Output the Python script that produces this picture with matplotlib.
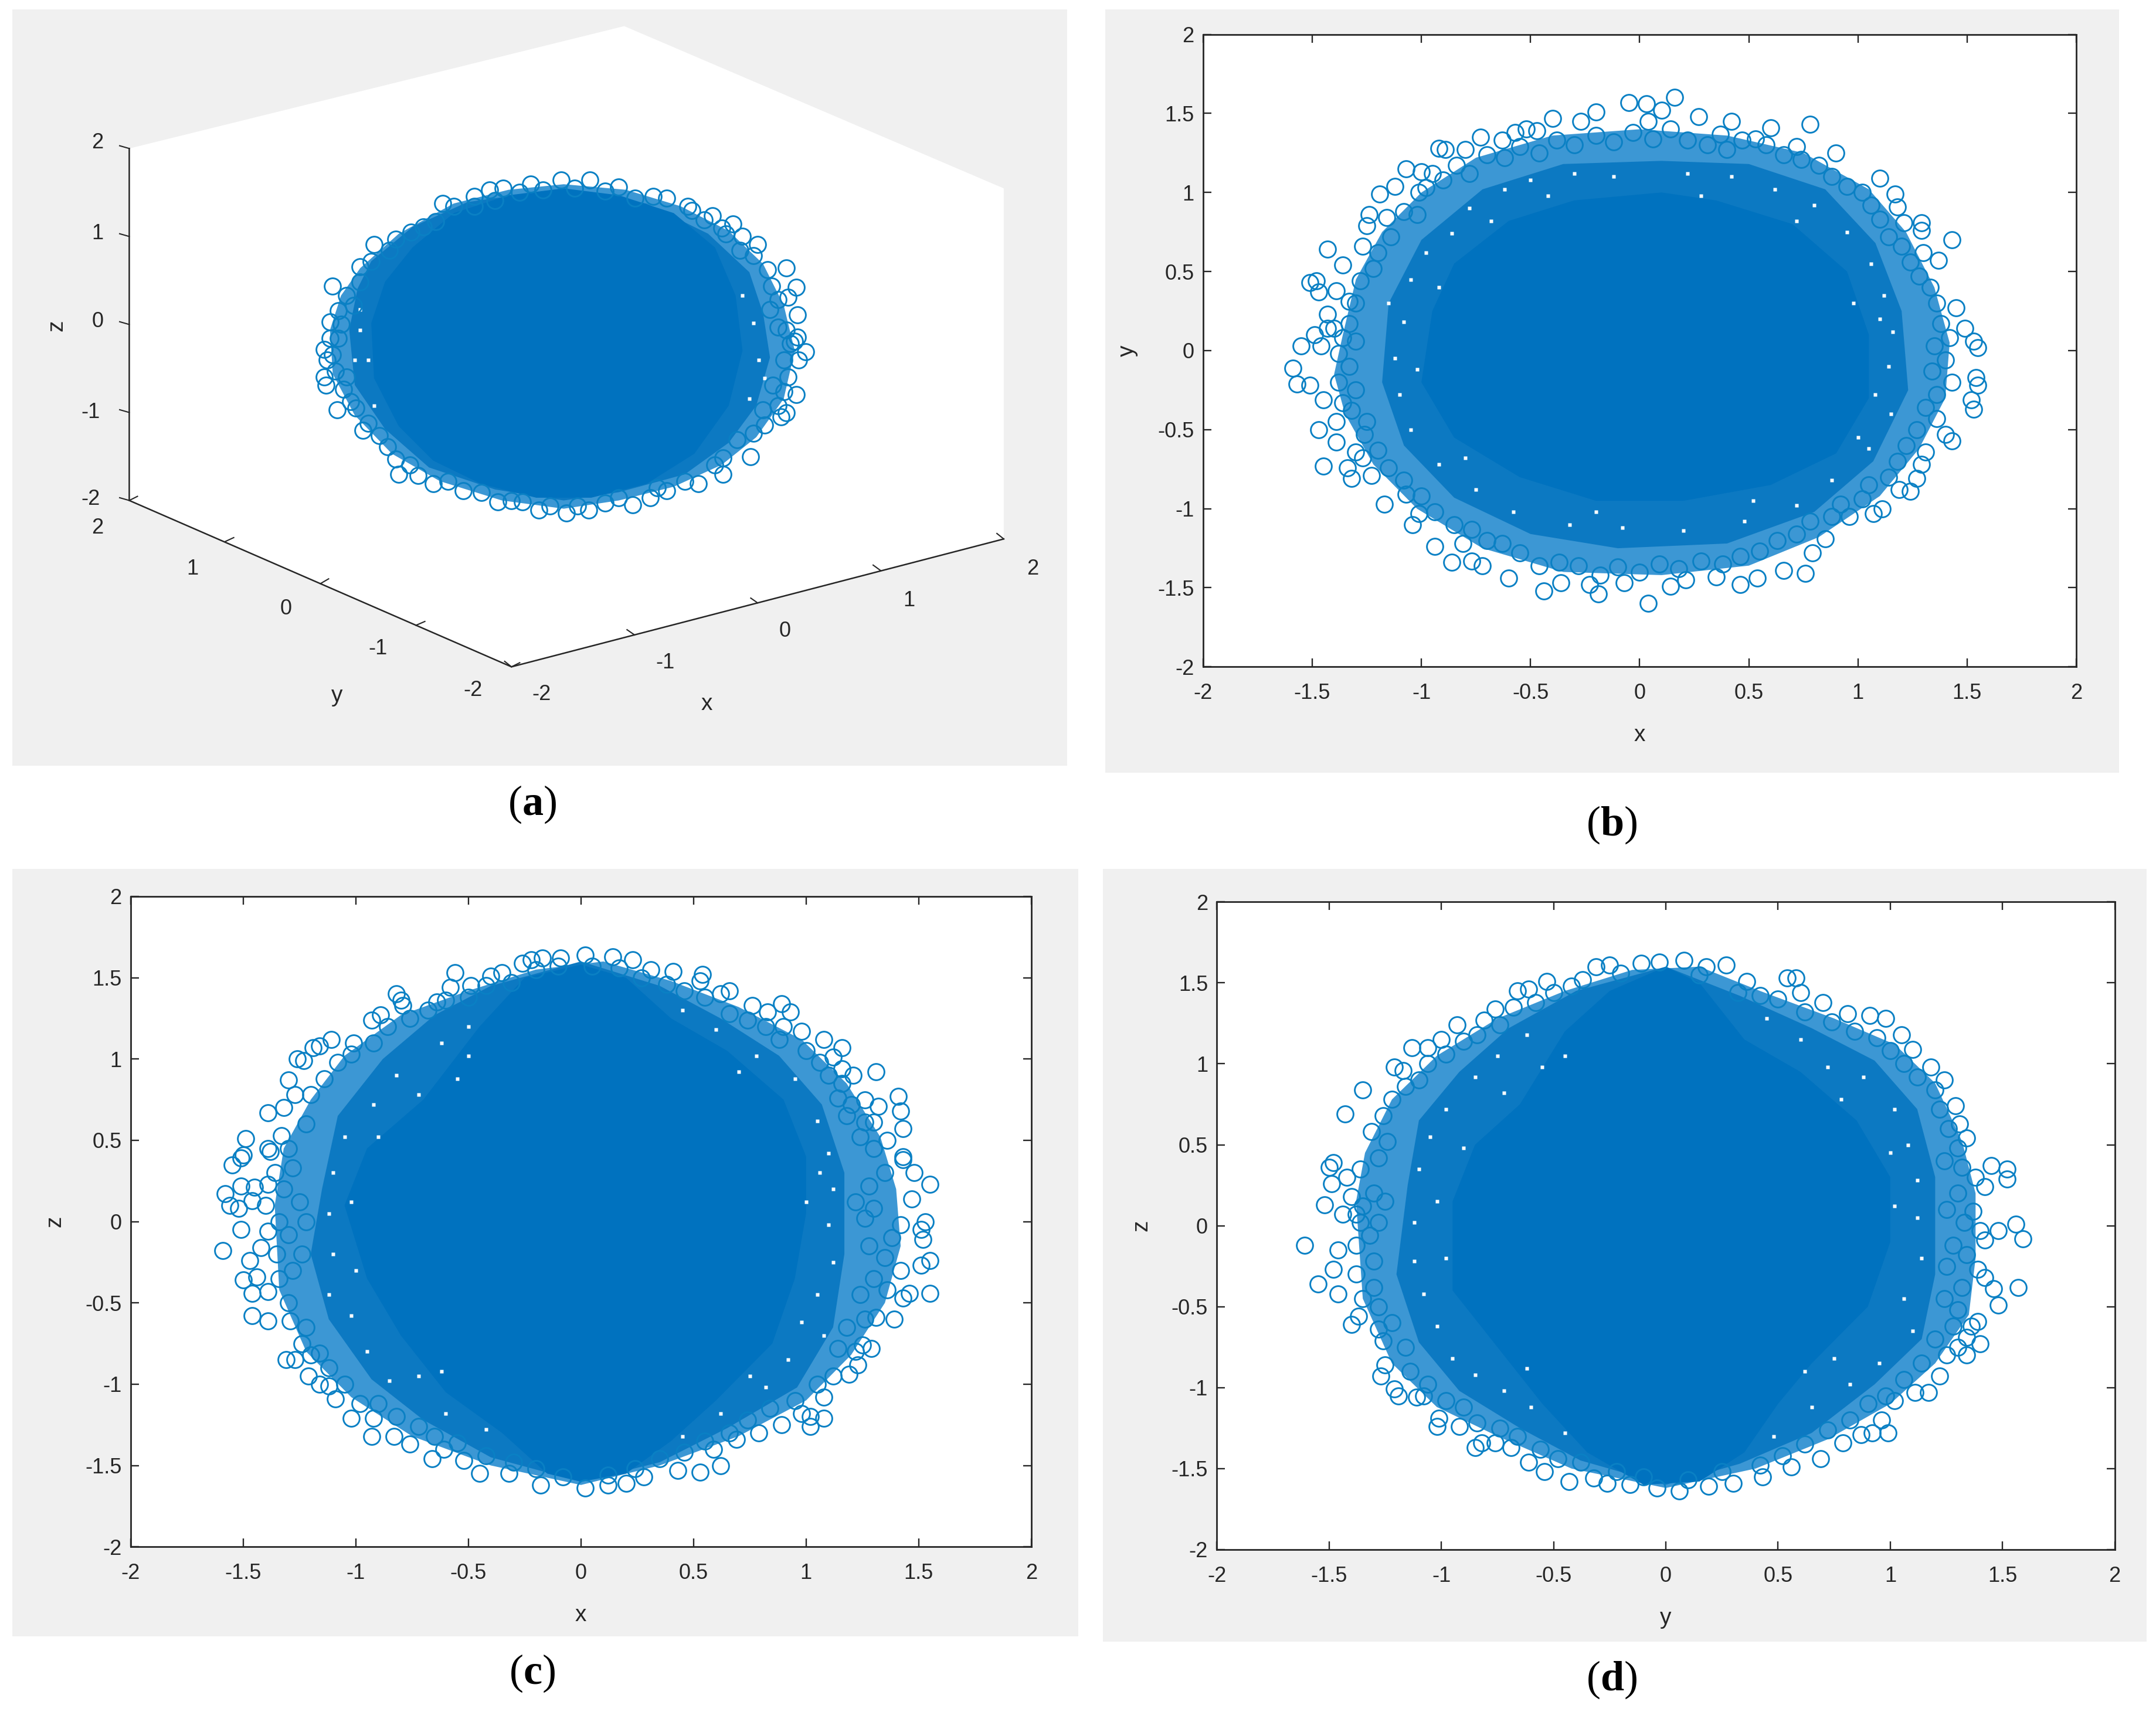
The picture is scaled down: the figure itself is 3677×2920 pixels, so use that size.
#!/usr/bin/env python3
"""Four views of a point cloud: 3D view (a), x-y (b), x-z (c), y-z (d)."""

import matplotlib
matplotlib.use('Agg')
import matplotlib.pyplot as plt
from matplotlib.patches import Polygon, Rectangle
import numpy as np

plt.rcParams['font.family'] = ['Liberation Sans', 'DejaVu Sans']
plt.rcParams['axes.unicode_minus'] = False
plt.rcParams['mathtext.fontset'] = 'custom'
plt.rcParams['mathtext.bf'] = 'Liberation Serif:bold'
plt.rcParams['mathtext.rm'] = 'Liberation Serif'

# Colors
color_bg = '#F0F0F0'
color_ring = '#0A80C4'
color_core = '#0072BF'
color_halo = '#0C79C2'
color_fringe = '#3C97D4'
color_ax = '#262626'

tick_vals = [-2, -1.5, -1, -0.5, 0, 0.5, 1, 1.5, 2]
tick_labels = ['-2', '-1.5', '-1', '-0.5', '0', '0.5', '1', '1.5', '2']

# Panel (b), x-y: circles that can be told apart at the rim
b_points = [(0.16,1.60),(-0.05,1.57),(0.03,1.56),(0.10,1.52),(-0.20,1.51),(-0.40,1.47),(-0.27,1.45),(0.27,1.48),
    (0.42,1.45),(0.78,1.43),(0.04,1.45),(-0.52,1.40),(-0.57,1.38),(-0.47,1.39),(-0.73,1.35),(-0.63,1.33),
    (-0.92,1.28),(-0.89,1.27),(-0.80,1.27),(0.60,1.41),(0.37,1.37),(0.53,1.34),(0.90,1.25),(0.72,1.29),
    (1.10,1.09),(1.17,0.99),(1.18,0.91),(1.21,0.81),(1.29,0.81),(1.29,0.76),(1.43,0.70),(1.37,0.57),
    (1.30,0.62),(1.45,0.27),(1.49,0.14),(1.53,0.06),(1.55,0.02),(1.54,-0.17),(1.55,-0.22),(1.52,-0.31),
    (1.53,-0.37),(1.43,-0.57),(1.40,-0.53),(1.31,-0.64),(1.29,-0.72),(1.27,-0.81),(1.24,-0.89),(1.19,-0.88),
    (1.07,-1.03),(1.11,-1.00),(0.96,-1.05),(0.85,-1.19),(0.79,-1.28),(0.76,-1.41),(0.66,-1.39),(0.54,-1.44),
    (0.46,-1.48),(0.35,-1.43),(0.14,-1.49),(0.04,-1.60),(0.21,-1.45),(-0.07,-1.47),(-0.19,-1.54),(-0.23,-1.48),
    (-0.36,-1.47),(-0.44,-1.52),(-0.60,-1.44),(-0.72,-1.36),(-0.77,-1.33),(-0.86,-1.34),(-0.94,-1.24),(-0.81,-1.22),
    (-1.04,-1.10),(-1.01,-1.03),(-1.17,-0.97),(-1.07,-0.91),(-1.32,-0.81),(-1.23,-0.79),(-1.45,-0.73),(-1.34,-0.74),
    (-1.30,-0.64),(-1.27,-0.68),(-1.47,-0.50),(-1.39,-0.45),(-1.39,-0.58),(-1.26,-0.53),(-1.59,-0.11),(-1.57,-0.21),
    (-1.51,-0.22),(-1.55,0.03),(-1.46,0.03),(-1.45,-0.31),(-1.36,-0.33),(-1.49,0.10),(-1.43,0.14),(-1.40,0.14),
    (-1.51,0.43),(-1.48,0.44),(-1.43,0.64),(-1.36,0.54),(-1.39,0.38),(-1.43,0.23),(-1.47,0.37),(-1.27,0.66),
    (-1.25,0.79),(-1.24,0.86),(-1.16,0.84),(-1.19,0.99),(-1.12,1.04),(-1.07,1.15),(-1.00,1.13),(-0.95,1.12),(-1.01,1.00)]
# circles of the busy band just inside the rim
b_band = [(-1.30,0.30),(-1.33,0.17),(-1.28,0.44),(-1.22,0.52),(-1.33,0.31),(-1.20,0.62),(-1.14,0.72),(-1.08,0.88),
    (-1.02,0.86),(-0.98,1.03),(-0.90,1.08),(-0.84,1.17),(-0.78,1.12),(-0.70,1.24),(-0.62,1.22),(-0.55,1.29),
    (-0.46,1.25),(-0.38,1.33),(-0.30,1.30),(-0.20,1.36),(-0.12,1.32),(-0.03,1.38),(0.06,1.34),(0.14,1.40),
    (0.22,1.33),(0.31,1.30),(0.40,1.27),(0.47,1.33),(0.58,1.30),(0.66,1.24),(0.74,1.21),(0.82,1.17),
    (0.88,1.10),(0.95,1.04),(1.02,1.00),(1.06,0.92),(1.10,0.83),(1.14,0.72),(1.20,0.66),(1.24,0.56),
    (1.28,0.47),(1.33,0.40),(1.36,0.30),(1.38,0.17),(1.42,0.08),(1.35,0.03),(1.40,-0.06),(1.34,-0.13),
    (1.43,-0.20),(1.36,-0.28),(1.31,-0.36),(1.36,-0.43),(1.27,-0.50),(1.22,-0.60),(1.18,-0.70),(1.14,-0.80),
    (1.05,-0.85),(1.02,-0.94),(0.92,-0.97),(0.88,-1.05),(0.78,-1.08),(0.72,-1.16),(0.63,-1.20),(0.55,-1.27),
    (0.46,-1.30),(0.38,-1.35),(0.28,-1.33),(0.18,-1.38),(0.09,-1.35),(0.00,-1.40),(-0.10,-1.37),(-0.18,-1.42),
    (-0.28,-1.36),(-0.37,-1.34),(-0.46,-1.36),(-0.55,-1.28),(-0.63,-1.22),(-0.70,-1.20),(-0.77,-1.13),(-0.85,-1.10),
    (-0.94,-1.02),(-1.00,-0.92),(-1.08,-0.82),(-1.15,-0.74),(-1.20,-0.63),(-1.25,-0.45),(-1.32,-0.38),(-1.30,-0.25),
    (-1.38,-0.20),(-1.33,-0.10),(-1.38,-0.02),(-1.30,0.06),(-1.36,0.08)]
# white gaps left between the circles in that band
b_gaps = [(-1.05,0.45),(-0.98,0.62),(-0.86,0.74),(-0.78,0.9),(-0.62,1.02),(-0.5,1.08),(-0.3,1.12),(-0.12,1.1),(0.22,1.12),
    (0.42,1.1),(0.62,1.02),(0.8,0.92),(0.95,0.75),(1.06,0.55),(1.12,0.35),(1.16,0.12),(1.14,-0.1),(1.15,-0.4),(1.05,-0.62),
    (0.88,-0.82),(0.72,-0.98),(0.48,-1.08),(0.2,-1.14),(-0.08,-1.12),(-0.32,-1.1),(-0.58,-1.02),(-0.75,-0.88),(-0.92,-0.72),
    (-1.05,-0.5),(-1.1,-0.28),(-1.12,-0.05),(-1.08,0.18),(-0.92,0.4),(-1.02,-0.12),(0.98,0.3),(1.0,-0.55),(0.28,0.98),
    (-0.42,0.98),(-0.2,-1.02),(0.52,-0.95),(-0.68,0.82),(0.72,0.82),(-0.8,-0.68),(1.1,0.2),(1.08,-0.28),(-1.15,0.3)]
# outlines of the saturated middle, of the busy band and of the thinner fringe
b_core = [(-0.95,0.25),(-0.85,0.55),(-0.6,0.82),(-0.3,0.95),(0.1,1.0),(0.35,0.95),(0.7,0.8),(0.95,0.5),(1.05,0.1),
    (1.05,-0.3),(0.9,-0.65),(0.6,-0.85),(0.2,-0.95),(-0.2,-0.95),(-0.55,-0.8),(-0.85,-0.55),(-1.0,-0.2)]
b_halo = [(-1.15,0.3),(-1.0,0.7),(-0.72,1.02),(-0.35,1.18),(0.1,1.2),(0.5,1.18),(0.85,1.02),(1.08,0.68),(1.2,0.25),
    (1.23,-0.25),(1.07,-0.7),(0.8,-1.02),(0.4,-1.22),(-0.1,-1.25),(-0.5,-1.16),(-0.85,-0.93),(-1.08,-0.6),(-1.18,-0.2)]
b_fringe = [(-1.36,0.1),(-1.3,0.45),(-1.18,0.75),(-1.0,1.0),(-0.75,1.22),(-0.4,1.36),(0,1.4),(0.4,1.36),(0.75,1.25),
    (1.05,1.02),(1.22,0.75),(1.35,0.4),(1.42,0.05),(1.4,-0.3),(1.28,-0.62),(1.1,-0.92),(0.82,-1.18),(0.5,-1.36),
    (0.1,-1.42),(-0.35,-1.4),(-0.72,-1.25),(-1.02,-1.0),(-1.22,-0.72),(-1.35,-0.4),(-1.4,-0.15)]

# Panel (c), x-z
c_points = [(-1.59,-0.18),(-1.51,-0.05),(-1.52,0.08),(-1.56,0.10),(-1.58,0.17),(-1.55,0.35),(-1.51,0.39),(-1.50,0.41),
    (-1.49,0.51),(-1.51,0.22),(-1.45,0.21),(-1.46,0.13),(-1.39,0.23),(-1.38,0.43),(-1.39,0.45),(-1.39,0.67),
    (-1.32,0.70),(-1.27,0.78),(-1.30,0.87),(-1.33,0.53),(-1.26,1.00),(-1.23,0.99),(-1.19,1.07),(-1.16,1.08),
    (-1.11,1.12),(-1.01,1.10),(-0.93,1.24),(-0.89,1.27),(-0.82,1.40),(-0.80,1.36),(-0.79,1.33),(-0.64,1.35),
    (-0.56,1.53),(-0.58,1.44),(-0.49,1.45),(-0.40,1.51),(-0.35,1.53),(-0.26,1.59),(-0.22,1.61),(-0.17,1.62),
    (-0.09,1.62),(0.02,1.64),(0.14,1.63),(0.23,1.61),(0.31,1.55),(0.41,1.54),(0.54,1.52),(0.53,1.48),
    (0.66,1.42),(0.62,1.40),(0.76,1.33),(0.89,1.34),(0.93,1.29),(0.83,1.29),(0.90,1.20),(0.98,1.17),
    (1.08,1.12),(1.16,1.07),(1.12,1.01),(1.16,0.94),(1.31,0.92),(1.21,0.90),(1.16,0.85),(1.26,0.75),
    (1.32,0.71),(1.41,0.77),(1.42,0.68),(1.43,0.57),(1.30,0.61),(1.26,0.61),(1.18,0.65),(1.43,0.40),
    (1.48,0.30),(1.55,0.23),(1.43,0.38),(1.47,0.14),(1.53,0.00),(1.51,-0.05),(1.52,-0.11),(1.55,-0.24),
    (1.51,-0.27),(1.55,-0.44),(1.46,-0.44),(1.43,-0.47),(1.39,-0.60),(1.31,-0.59),(1.29,-0.78),(1.25,-0.76),
    (1.23,-0.88),(1.19,-0.94),(1.08,-1.08),(1.08,-1.21),(1.02,-1.26),(1.02,-1.20),(0.89,-1.25),(0.79,-1.30),
    (0.69,-1.34),(0.59,-1.40),(0.62,-1.50),(0.53,-1.54),(0.43,-1.53),(0.28,-1.57),(0.20,-1.61),(0.12,-1.62),
    (0.02,-1.64),(-0.18,-1.62),(-0.32,-1.55),(-0.45,-1.55),(-0.52,-1.47),(-0.66,-1.46),(-0.61,-1.40),(-0.76,-1.37),
    (-0.83,-1.32),(-0.93,-1.32),(-1.02,-1.21),(-0.92,-1.21),(-1.09,-1.09),(-1.12,-1.01),(-1.21,-0.95),(-1.16,-1.00),
    (-1.16,-0.81),(-1.31,-0.85),(-1.27,-0.85),(-1.24,-0.75),(-1.29,-0.61),(-1.39,-0.61),(-1.46,-0.58),(-1.46,-0.44),
    (-1.39,-0.43),(-1.50,-0.36),(-1.44,-0.34),(-1.47,-0.24),(-1.42,-0.16),(-1.39,-0.06)]
c_band = [(-1.40,0.10),(-1.34,0.00),(-1.32,0.20),(-1.28,0.33),(-1.36,0.30),(-1.30,0.45),(-1.22,0.60),(-1.20,0.78),
    (-1.14,0.88),(-1.08,0.98),(-1.02,1.03),(-0.92,1.10),(-0.86,1.20),(-0.76,1.25),(-0.68,1.30),(-0.60,1.36),
    (-0.50,1.38),(-0.42,1.45),(-0.31,1.47),(-0.20,1.55),(-0.10,1.57),(0.05,1.57),(0.17,1.56),(0.27,1.50),
    (0.38,1.46),(0.46,1.42),(0.55,1.38),(0.66,1.28),(0.74,1.24),(0.82,1.20),(0.88,1.12),(1.00,1.05),
    (1.06,0.98),(1.10,0.90),(1.14,0.76),(1.20,0.72),(1.24,0.52),(1.30,0.45),(1.36,0.50),(1.35,0.30),
    (1.28,0.22),(1.22,0.12),(1.30,0.08),(1.26,0.02),(1.42,-0.02),(1.38,-0.10),(1.28,-0.15),(1.35,-0.22),
    (1.42,-0.30),(1.30,-0.35),(1.36,-0.42),(1.24,-0.45),(1.26,-0.60),(1.18,-0.65),(1.22,-0.80),(1.14,-0.78),
    (1.12,-0.95),(1.05,-1.00),(0.95,-1.10),(0.98,-1.18),(0.84,-1.15),(0.74,-1.22),(0.66,-1.30),(0.55,-1.35),
    (0.46,-1.42),(0.35,-1.46),(0.24,-1.52),(0.12,-1.56),(-0.08,-1.57),(-0.20,-1.52),(-0.30,-1.48),(-0.42,-1.44),
    (-0.55,-1.36),(-0.65,-1.32),(-0.72,-1.26),(-0.82,-1.20),(-0.90,-1.12),(-0.98,-1.12),(-1.05,-1.00),(-1.12,-0.90),
    (-1.20,-0.82),(-1.22,-0.65),(-1.30,-0.50),(-1.34,-0.35),(-1.28,-0.30),(-1.35,-0.20),(-1.30,-0.08),(-1.24,-0.20),
    (-1.22,0.00),(-1.25,0.12)]
c_gaps = [(-1.1,0.3),(-1.05,0.52),(-0.92,0.72),(-0.82,0.9),(-0.72,0.78),(-0.62,1.1),(-0.5,1.2),(0.45,1.3),(0.6,1.18),
    (0.78,1.02),(0.95,0.88),(1.05,0.62),(1.1,0.42),(1.12,0.2),(1.06,0.3),(1.1,-0.02),(1.12,-0.25),(1.05,-0.45),(1.08,-0.7),
    (0.92,-0.85),(0.82,-1.02),(0.62,-1.18),(0.45,-1.32),(-0.42,-1.28),(-0.6,-1.18),(-0.72,-0.95),(-0.85,-0.98),(-0.95,-0.8),
    (-1.02,-0.58),(-1.12,-0.45),(-1.1,-0.2),(-1.12,0.05),(-1.02,0.12),(0.98,-0.62),(-0.9,0.52),(-0.55,0.88),(-0.62,-0.92),
    (1.0,0.12),(-1.0,-0.3),(0.7,0.92),(0.75,-0.95),(-0.5,1.02)]
c_core = [(-1.05,0.1),(-0.95,0.45),(-0.7,0.75),(-0.45,1.2),(-0.25,1.5),(0,1.58),(0.2,1.5),(0.4,1.25),(0.65,1.05),
    (0.9,0.75),(1.0,0.4),(1.0,0.05),(0.95,-0.35),(0.85,-0.75),(0.6,-1.1),(0.4,-1.35),(0.2,-1.55),(0,-1.6),
    (-0.15,-1.55),(-0.35,-1.3),(-0.6,-1.05),(-0.8,-0.7),(-0.95,-0.35)]
c_halo = [(-1.15,0.2),(-1.08,0.65),(-0.88,1.0),(-0.65,1.27),(-0.4,1.45),(0,1.6),(0.35,1.45),(0.62,1.25),(0.88,1.02),
    (1.07,0.72),(1.17,0.3),(1.17,-0.2),(1.12,-0.65),(0.96,-1.02),(0.65,-1.27),(0.35,-1.48),(0,-1.6),(-0.4,-1.45),
    (-0.7,-1.22),(-0.93,-0.97),(-1.12,-0.6),(-1.2,-0.2)]
c_fringe = [(-1.36,0.1),(-1.32,0.45),(-1.2,0.75),(-1.05,1.02),(-0.8,1.27),(-0.5,1.42),(-0.2,1.55),(0.1,1.6),(0.4,1.48),
    (0.7,1.32),(0.98,1.12),(1.18,0.85),(1.33,0.52),(1.4,0.2),(1.42,-0.15),(1.35,-0.5),(1.2,-0.82),(1.0,-1.1),(0.7,-1.32),
    (0.35,-1.5),(0,-1.62),(-0.4,-1.5),(-0.75,-1.32),(-1.02,-1.08),(-1.22,-0.8),(-1.34,-0.42)]

# Panel (d), y-z
d_points = [(-1.61,-0.12),(-1.55,-0.36),(-1.52,0.13),(-1.43,0.69),(-1.35,0.84),(-1.48,0.39),(-1.50,0.36),(-1.49,0.26),
    (-1.40,-0.61),(-1.37,-0.56),(-1.46,-0.42),(-1.48,-0.27),(-1.46,-0.15),(-1.44,0.07),(-1.38,0.07),(-1.31,0.58),
    (-1.28,-0.64),(-1.26,-0.71),(-1.25,-0.86),(-1.27,-0.93),(-1.21,-1.01),(-1.19,-1.05),(-1.11,-1.06),(-1.08,-1.05),
    (-1.02,-1.24),(-1.01,-1.19),(-0.92,-1.24),(-0.85,-1.37),(-0.82,-1.34),(-0.76,-1.34),(-0.69,-1.37),(-0.61,-1.46),
    (-0.54,-1.52),(-0.43,-1.58),(-0.32,-1.56),(-0.26,-1.59),(-0.16,-1.60),(-0.04,-1.62),(0.06,-1.64),(0.19,-1.61),
    (0.30,-1.59),(0.43,-1.55),(0.56,-1.49),(0.69,-1.44),(0.79,-1.34),(0.87,-1.29),(0.92,-1.28),(0.99,-1.28),
    (0.96,-1.20),(1.02,-1.08),(1.11,-1.03),(1.17,-1.03),(1.22,-0.93),(1.25,-0.80),(1.34,-0.80),(1.40,-0.73),
    (1.34,-0.69),(1.39,-0.59),(1.48,-0.49),(1.46,-0.39),(1.57,-0.38),(1.39,-0.27),(1.42,-0.09),(1.48,-0.03),
    (1.56,0.01),(1.59,-0.08),(1.37,0.09),(1.42,0.24),(1.52,0.29),(1.52,0.35),(1.45,0.37),(1.34,0.54),
    (1.31,0.63),(1.29,0.74),(1.24,0.90),(1.18,0.98),(1.10,1.09),(1.05,1.18),(0.98,1.28),(0.91,1.30),
    (0.81,1.31),(0.70,1.38),(0.60,1.44),(0.58,1.53),(0.54,1.53),(0.36,1.51),(0.27,1.61),(0.18,1.60),
    (0.08,1.64),(-0.03,1.63),(-0.11,1.62),(-0.25,1.61),(-0.31,1.60),(-0.37,1.52),(-0.53,1.51),(-0.61,1.46),
    (-0.66,1.45),(-0.76,1.34),(-0.81,1.27),(-0.93,1.24),(-1.00,1.15),(-1.06,1.10),(-1.13,1.10),(-1.21,0.98),(-1.17,0.96)]
d_band = [(-1.42,0.30),(-1.40,0.18),(-1.35,0.12),(-1.30,0.20),(-1.36,0.35),(-1.28,0.42),(-1.24,0.52),(-1.26,0.68),
    (-1.22,0.78),(-1.16,0.86),(-1.10,0.90),(-1.06,1.00),(-0.98,1.06),(-0.90,1.14),(-0.84,1.18),(-0.74,1.24),
    (-0.68,1.35),(-0.58,1.38),(-0.50,1.44),(-0.42,1.48),(-0.20,1.56),(0.15,1.55),(0.32,1.44),(0.42,1.42),
    (0.50,1.40),(0.62,1.32),(0.74,1.26),(0.84,1.20),(0.94,1.16),(1.00,1.08),(1.06,1.00),(1.12,0.92),
    (1.20,0.84),(1.22,0.72),(1.26,0.60),(1.30,0.48),(1.24,0.40),(1.32,0.36),(1.38,0.30),(1.30,0.20),
    (1.25,0.10),(1.33,0.02),(1.40,-0.03),(1.28,-0.12),(1.34,-0.18),(1.25,-0.25),(1.42,-0.32),(1.32,-0.38),
    (1.24,-0.45),(1.30,-0.52),(1.36,-0.62),(1.28,-0.62),(1.20,-0.70),(1.30,-0.75),(1.14,-0.85),(1.06,-0.95),
    (0.98,-1.05),(0.90,-1.10),(0.82,-1.20),(0.72,-1.26),(0.62,-1.35),(0.52,-1.42),(0.42,-1.48),(0.25,-1.52),
    (0.10,-1.57),(-0.10,-1.55),(-0.22,-1.52),(-0.38,-1.46),(-0.48,-1.44),(-0.56,-1.38),(-0.66,-1.30),(-0.74,-1.25),
    (-0.84,-1.22),(-0.90,-1.12),(-0.98,-1.08),(-1.06,-0.98),(-1.14,-0.90),(-1.16,-0.75),(-1.22,-0.60),(-1.28,-0.50),
    (-1.35,-0.45),(-1.30,-0.38),(-1.38,-0.30),(-1.30,-0.22),(-1.38,-0.12),(-1.32,-0.06),(-1.28,0.02),(-1.36,0.02),(-1.25,0.15)]
d_gaps = [(-1.1,0.35),(-1.05,0.55),(-0.98,0.72),(-0.85,0.92),(-0.75,1.05),(-0.62,1.18),(-0.55,0.98),(0.45,1.28),(0.6,1.15),
    (0.72,0.98),(0.88,0.92),(1.02,0.72),(1.08,0.5),(1.12,0.28),(1.0,0.45),(1.12,0.05),(1.14,-0.2),(1.06,-0.45),(1.1,-0.65),
    (0.95,-0.85),(0.82,-0.98),(0.65,-1.12),(0.48,-1.3),(-0.45,-1.28),(-0.6,-1.12),(-0.72,-1.02),(-0.85,-0.92),(-0.95,-0.82),
    (-1.02,-0.62),(-1.08,-0.42),(-1.12,-0.22),(-1.12,0.02),(-1.02,0.15),(0.75,-0.82),(-0.9,0.48),(-0.72,0.82),(-0.62,-0.88),
    (1.02,0.12),(-0.98,-0.2),(0.78,0.78),(0.62,-0.9),(-0.45,1.05)]
d_core = [(-0.95,0.15),(-0.85,0.5),(-0.65,0.75),(-0.45,1.2),(-0.25,1.45),(0,1.6),(0.15,1.5),(0.35,1.15),(0.6,0.95),
    (0.85,0.65),(1.0,0.3),(1.0,-0.1),(0.9,-0.5),(0.65,-0.85),(0.5,-1.1),(0.35,-1.4),(0.15,-1.58),(-0.1,-1.6),
    (-0.35,-1.4),(-0.55,-1.1),(-0.75,-0.75),(-0.95,-0.4)]
d_halo = [(-1.15,0.25),(-1.1,0.65),(-0.92,0.95),(-0.7,1.22),(-0.4,1.45),(0,1.6),(0.33,1.42),(0.65,1.22),(0.93,1.02),
    (1.12,0.72),(1.2,0.3),(1.2,-0.3),(1.14,-0.7),(0.93,-0.98),(0.65,-1.28),(0.33,-1.47),(0,-1.6),(-0.38,-1.45),
    (-0.65,-1.25),(-0.92,-1.02),(-1.1,-0.72),(-1.2,-0.3)]
d_fringe = [(-1.38,0.15),(-1.34,0.45),(-1.22,0.78),(-1.02,1.05),(-0.75,1.28),(-0.45,1.45),(-0.15,1.58),(0.15,1.6),(0.42,1.45),
    (0.75,1.28),(1.02,1.12),(1.2,0.88),(1.32,0.52),(1.38,0.2),(1.38,-0.2),(1.35,-0.55),(1.2,-0.85),(1.0,-1.1),(0.72,-1.32),
    (0.4,-1.5),(0,-1.62),(-0.42,-1.5),(-0.75,-1.3),(-1.02,-1.12),(-1.22,-0.85),(-1.35,-0.45)]

# Panel (a), 3D view: circles as read on the flat picture
a_points = [(322,148),(345,143),(356,138),(366,137),(386,134),(408,131),(429,131),(450,136),(475,143),(485,144),
    (518,157),(533,163),(551,178),(572,195),(579,209),(561,208),(573,216),(580,229),(586,256),(578,248),
    (581,262),(579,287),(568,303),(556,309),(546,332),(526,333),(526,345),(508,352),(485,357),(473,362),
    (460,367),(428,371),(412,373),(392,371),(372,364),(362,365),(337,357),(315,352),(304,346),(288,334),
    (276,317),(264,313),(245,298),(237,280),(236,274),(236,254),(240,246),(240,234),(246,226),(242,208),
    (262,194),(272,178),(288,174),(299,169),(317,161),(252,274),(250,283),(259,297),(246,246),(257,222),
    (566,295),(573,274),(566,238),(503,153),(528,170),(538,182)]
a_band = [(330,150),(345,150),(360,146),(378,140),(395,138),(418,137),(440,139),(462,144),(500,150),(512,160),
    (525,166),(540,172),(548,186),(558,196),(566,218),(572,240),(570,262),(575,250),(562,280),(570,285),
    (555,298),(548,315),(536,320),(520,338),(498,350),(478,355),(450,362),(440,366),(420,368),(400,368),
    (380,365),(350,358),(326,350),(298,338),(282,325),(268,308),(255,292),(244,270),(242,258),(248,236),
    (252,215),(262,205),(270,190),(283,182),(308,165),(238,262),(560,225),(580,245),(572,300),(290,345)]
a_gaps = [(262,240),(268,262),(258,262),(272,295),(548,235),(552,262),(556,275),(545,290),(540,215),(262,225)]
a_core = [(300,180),(330,155),(370,142),(410,137),(450,142),(490,155),(520,180),(535,215),(540,255),(530,295),
    (505,330),(470,352),(430,362),(390,362),(350,352),(315,335),(290,310),(272,275),(270,235),(280,205)]
a_halo = [(270,190),(300,165),(340,147),(410,137),(470,148),(515,170),(545,198),(555,228),(560,260),(550,295),
    (530,322),(498,345),(450,358),(410,364),(360,356),(312,340),(280,312),(258,280),(254,240),(260,210)]
a_fringe = [(262,195),(290,170),(330,148),(370,138),(410,134),(455,138),(495,150),(530,168),(555,192),(570,222),(578,255),
    (570,290),(550,318),(525,338),(490,354),(450,364),(410,370),(365,364),(320,350),(285,330),(258,302),(242,272),(240,240),(248,215)]
a_wall = [(94,108),(454,19),(730,137),(730,392),(372,485),(94,364)]
a_axes = [(94,108),(94,364),(372,485),(730,392)]
a_ticks = [((94,108),(87,106)),((94,172),(87,170)),((94,236),(87,234)),((94,300),(87,298)),((94,364),(87,362)),
    ((94,364),(100,361)),((163.5,394),(170,391)),((233,424.5),(239,421)),((302.5,454.8),(309,452)),((372,485),(378,482)),
    ((372,485),(367,481)),((461.5,461.8),(456,458)),((551,438.5),(546,435)),((640.5,415),(635,411)),((730,392),(725,388))]
a_labels = [('2',71,104),('1',71,170),('0',71,234),('-1',66,300),('-2',66,363),
    ('2',71,384),('1',140,414),('0',208,443),('-1',275,472),('-2',344,502),
    ('-2',394,505),('-1',484,482),('0',571,459),('1',661,437),('2',751,414)]

# Figure layout, in pixels of the 1568 wide view of the picture
W, H = 3677, 2920
S = W / 1568

fig = plt.figure(figsize=(W / 100, H / 100), dpi=100, facecolor='white')


def rect(x0, y0, x1, y1):
    return [x0 * S / W, 1 - y1 * S / H, (x1 - x0) * S / W, (y1 - y0) * S / H]


def panel_bg(x0, y0, x1, y1):
    r = rect(x0, y0, x1, y1)
    fig.add_artist(Rectangle((r[0], r[1]), r[2], r[3], transform=fig.transFigure,
                             facecolor=color_bg, edgecolor='none', zorder=-5))


def draw_cloud(ax, fringe, halo, core, band, points, gaps):
    ax.add_patch(Polygon(fringe, closed=True, facecolor=color_fringe, edgecolor='none', zorder=1.5))
    ax.add_patch(Polygon(halo, closed=True, facecolor=color_halo, edgecolor='none', zorder=2))
    ax.add_patch(Polygon(core, closed=True, facecolor=color_core, edgecolor='none', zorder=3))
    gp = np.array(gaps)
    ax.plot(gp[:, 0], gp[:, 1], 's', ms=4.5, mfc='white', mec='none', zorder=3.5)
    pts = np.array(band + points)
    ax.plot(pts[:, 0], pts[:, 1], 'o', ms=20, mfc='none', mec=color_ring, mew=2.1, zorder=4, clip_on=False)


def flat_panel(box, xname, yname, fringe, halo, core, band, points, gaps):
    ax = fig.add_axes(rect(*box))
    ax.set_xlim(-2, 2)
    ax.set_ylim(-2, 2)
    ax.set_xticks(tick_vals)
    ax.set_yticks(tick_vals)
    ax.set_xticklabels(tick_labels)
    ax.set_yticklabels(tick_labels)
    ax.tick_params(direction='in', top=True, right=True, length=10, width=1.7, color=color_ax,
                   labelcolor=color_ax, labelsize=26)
    ax.tick_params(axis='x', pad=20)
    ax.tick_params(axis='y', pad=11)
    for sp in ax.spines.values():
        sp.set_linewidth(2.0)
        sp.set_color(color_ax)
    ax.set_xlabel(xname, fontsize=28, color=color_ax, labelpad=26)
    ax.set_ylabel(yname, fontsize=28, color=color_ax, labelpad=24)
    draw_cloud(ax, fringe, halo, core, band, points, gaps)
    return ax


panel_bg(9, 7, 776, 557)
panel_bg(804, 7, 1541, 562)
panel_bg(9, 632, 784, 1190)
panel_bg(802, 632, 1561, 1194)

# Panel (a)
ax_a = fig.add_axes(rect(9, 7, 776, 557))
ax_a.set_xlim(9, 776)
ax_a.set_ylim(557, 7)
ax_a.axis('off')
ax_a.add_patch(Polygon(a_wall, closed=True, facecolor='white', edgecolor='none', zorder=1))
draw_cloud(ax_a, a_fringe, a_halo, a_core, a_band, a_points, a_gaps)
axis_line = np.array(a_axes)
ax_a.plot(axis_line[:, 0], axis_line[:, 1], color=color_ax, lw=1.8, zorder=5)
for p0, p1 in a_ticks:
    ax_a.plot([p0[0], p1[0]], [p0[1], p1[1]], color=color_ax, lw=1.5, zorder=5)
for txt, lx, ly in a_labels:
    ax_a.text(lx, ly, txt, ha='center', va='center', fontsize=26, color=color_ax)
ax_a.text(41, 237, 'z', rotation=90, ha='center', va='center', fontsize=28, color=color_ax)
ax_a.text(245, 506, 'y', ha='center', va='center', fontsize=28, color=color_ax)
ax_a.text(514, 512, 'x', ha='center', va='center', fontsize=28, color=color_ax)

# Panels (b), (c), (d)
flat_panel((875, 25, 1510, 485), 'x', 'y', b_fringe, b_halo, b_core, b_band, b_points, b_gaps)
flat_panel((95, 652, 750, 1125), 'x', 'z', c_fringe, c_halo, c_core, c_band, c_points, c_gaps)
flat_panel((885, 656, 1538, 1127), 'y', 'z', d_fringe, d_halo, d_core, d_band, d_points, d_gaps)

# Sub-captions
for letter, cx, cy in [('a', 387, 585), ('b', 1172, 600), ('c', 387, 1217), ('d', 1172, 1222)]:
    fig.text(cx * S / W, 1 - cy * S / H, '($\\mathbf{%s}$)' % letter, ha='center', va='center',
             fontsize=52, family='Liberation Serif', color='black')

fig.savefig('out.png', dpi=100, facecolor='white')
